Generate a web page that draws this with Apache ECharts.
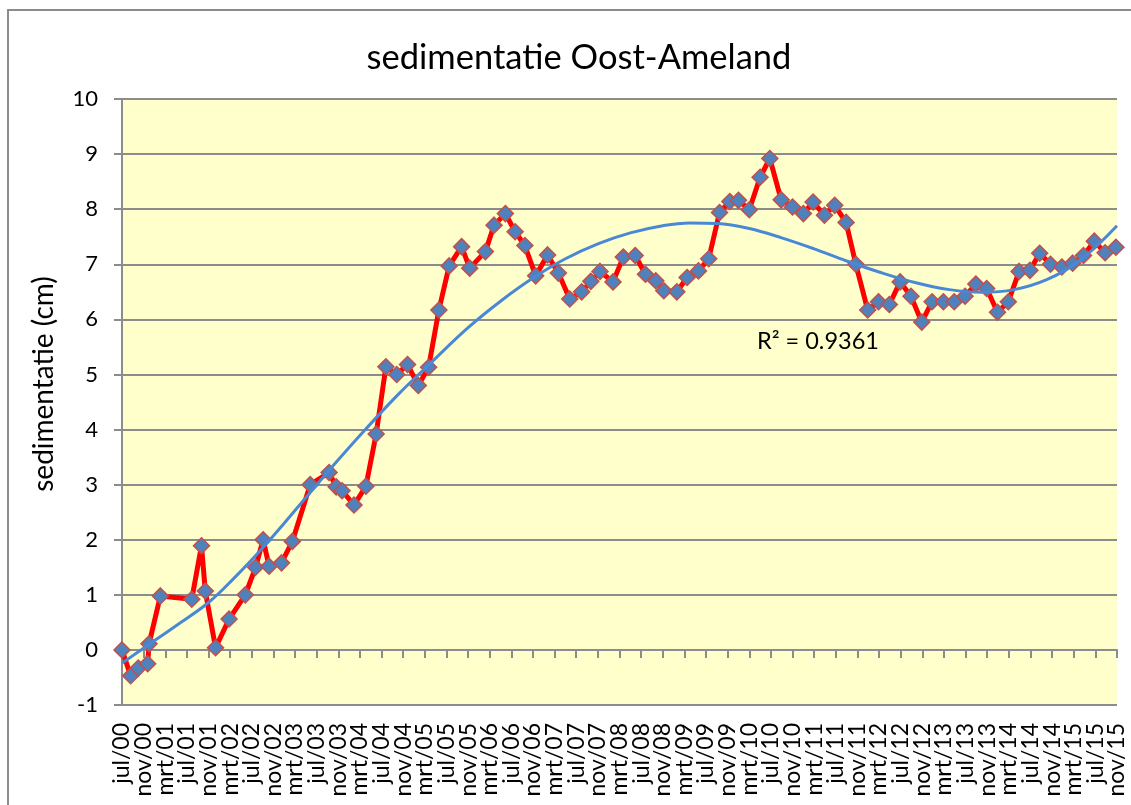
<!DOCTYPE html>
<html>
<head>
<meta charset="utf-8">
<script src="https://cdn.jsdelivr.net/npm/echarts@6/dist/echarts.min.js"></script>
<style>
  html, body { margin: 0; padding: 0; background: #fff; }
  #chart { width: 1131px; height: 805px; }
</style>
</head>
<body>
<div id="chart"></div>
<script>
// months counted from jul/00
const months = [0, 1.6, 3.0, 4.75, 5.0, 7.1, 12.9, 14.7, 15.4, 17.3, 19.8, 22.8, 24.7, 26.1, 27.2, 29.5,
  31.5, 34.8, 38.3, 39.6, 40.7, 42.9, 45.1, 47.0, 48.8, 50.8, 52.8, 54.8, 56.7, 58.6, 60.5, 62.8,
  64.3, 67.2, 68.8, 70.9, 72.7, 74.5, 76.5, 78.7, 80.7, 82.8, 85.0, 86.7, 88.4, 90.8, 92.7, 94.9,
  96.8, 98.7, 100.2, 102.6, 104.5, 106.6, 108.5, 110.5, 112.4, 114.0, 116.0, 118.0, 119.8, 121.9,
  124.0, 126.0, 127.8, 129.9, 131.8, 133.9, 135.7, 137.9, 139.9, 141.9, 143.9, 145.9, 147.9, 149.8,
  151.9, 153.9, 155.9, 157.9, 159.9, 161.9, 163.9, 165.9, 167.9, 169.7, 171.7, 173.8, 175.8, 177.8,
  179.8, 181.8, 183.8];
const sedimentatie = [0.0, -0.47, -0.33, -0.25, 0.11, 0.98, 0.92, 1.89, 1.07, 0.04, 0.56, 1.0, 1.5, 2.0, 1.52, 1.58,
  1.97, 3.0, 3.22, 2.96, 2.89, 2.63, 2.97, 3.92, 5.14, 5.0, 5.18, 4.8, 5.13, 6.17, 6.97, 7.32,
  6.93, 7.23, 7.71, 7.92, 7.59, 7.34, 6.79, 7.17, 6.84, 6.37, 6.5, 6.69, 6.87, 6.68, 7.13, 7.16,
  6.82, 6.70, 6.52, 6.50, 6.76, 6.88, 7.10, 7.94, 8.14, 8.16, 7.99, 8.58, 8.92, 8.17,
  8.04, 7.92, 8.13, 7.89, 8.07, 7.76, 7.00, 6.17, 6.32, 6.27, 6.68, 6.42, 5.95, 6.32,
  6.32, 6.32, 6.42, 6.64, 6.56, 6.13, 6.32, 6.87, 6.89, 7.2, 7.0, 6.95, 7.02, 7.16,
  7.42, 7.21, 7.31];

// polynomial trendline
const trendMonths = [0, 5, 10, 16, 21, 26, 30, 35, 40, 45, 51, 57, 64, 70, 76, 82, 88, 94, 100, 105,
  110, 116, 122, 128, 134, 140, 147, 153, 159, 165, 171, 177, 184];
const trendValues = [-0.24, 0.10, 0.44, 0.86, 1.33, 1.85, 2.3, 2.88, 3.45, 4.0, 4.63, 5.2, 5.85, 6.33,
  6.75, 7.1, 7.37, 7.57, 7.7, 7.75, 7.74, 7.65, 7.48, 7.28, 7.06, 6.86, 6.66, 6.54, 6.49, 6.54, 6.72,
  7.06, 7.7];

const xTickLabels = [];
const monthNames = ['jul', 'nov', 'mrt'];
for (let i = 0; i <= 46; i++) {
  const m = 6 + i * 4;
  const yr = (Math.floor(m / 12)) % 100;
  xTickLabels.push(monthNames[i % 3] + '/' + String(yr).padStart(2, '0'));
}

const font = 'Lato';
const gray = '#8c8c8c';
const xMin = 0, xMax = 184;

const labelStyle = { rotate: 90, margin: 18, fontSize: 23, color: '#000', fontFamily: font };

const chart = echarts.init(document.getElementById('chart'));
chart.setOption({
  animation: false,
  backgroundColor: '#fff',
  textStyle: { fontFamily: font },
  title: {
    text: 'sedimentatie Oost-Ameland',
    left: 574,
    top: 35,
    textAlign: 'center',
    textStyle: { fontSize: 34.5, fontWeight: 'normal', color: '#000', fontFamily: font }
  },
  graphic: [
    {
      type: 'rect',
      shape: { x: 8, y: 10, width: 1200, height: 900 },
      style: { fill: 'none', stroke: gray, lineWidth: 2 },
      silent: true
    },
    {
      type: 'text',
      x: 44, y: 384,
      rotation: Math.PI / 2,
      style: {
        text: 'sedimentatie (cm)', fontSize: 28, fontFamily: font, fill: '#000',
        align: 'center', verticalAlign: 'middle'
      }
    },
    {
      type: 'text',
      x: 757, y: 341,
      z: 10,
      style: {
        text: 'R² = 0.9361', fontSize: 23.5, fontFamily: font, fill: '#000',
        align: 'left', verticalAlign: 'middle'
      }
    }
  ],
  grid: {
    left: 122, top: 99, right: 14, bottom: 100,
    show: true, backgroundColor: '#FFFFCC', borderWidth: 0
  },
  xAxis: [
    {
      // inner tick labels
      type: 'value', min: xMin, max: xMax, interval: 4,
      axisLine: { show: false, onZero: false },
      axisTick: { show: false },
      splitLine: { show: false },
      axisLabel: Object.assign({}, labelStyle, {
        showMinLabel: false, showMaxLabel: false,
        formatter: (v) => xTickLabels[Math.round(v / 4)]
      })
    },
    {
      // axis line with ticks at zero
      type: 'value', min: xMin, max: xMax, interval: 4, position: 'bottom',
      axisLine: { show: true, onZero: true, lineStyle: { color: gray, width: 2 } },
      axisTick: { show: true, length: 8, lineStyle: { color: gray, width: 2 } },
      splitLine: { show: false },
      axisLabel: { show: false }
    },
    {
      // first and last labels
      type: 'value', min: xMin, max: xMax, interval: 4, position: 'bottom',
      axisLine: { show: false, onZero: false },
      axisTick: { show: false },
      splitLine: { show: false },
      axisLabel: Object.assign({}, labelStyle, {
        showMinLabel: true, showMaxLabel: true,
        formatter: (v) => (v === xMin || v === xMax) ? xTickLabels[Math.round(v / 4)] : ''
      })
    }
  ],
  yAxis: {
    type: 'value', min: -1, max: 10, interval: 1,
    axisLine: { show: true, lineStyle: { color: gray, width: 2 } },
    axisTick: { show: true, length: 8, lineStyle: { color: gray, width: 2 } },
    splitLine: { show: true, lineStyle: { color: gray, width: 2 } },
    axisLabel: { fontSize: 22, margin: 24, color: '#000', fontFamily: font }
  },
  series: [
    {
      type: 'line',
      name: 'sedimentatie',
      data: months.map((m, i) => [m, sedimentatie[i]]),
      symbol: 'diamond',
      symbolSize: 16,
      itemStyle: { color: '#4F81BD', borderColor: '#C0504D', borderWidth: 1.5 },
      lineStyle: { color: '#FF0000', width: 5 },
      z: 2
    },
    {
      type: 'line',
      name: 'trend',
      data: trendMonths.map((m, i) => [m, trendValues[i]]),
      smooth: 0.4,
      showSymbol: false,
      lineStyle: { color: '#4A88D6', width: 3 },
      z: 3
    }
  ]
});
</script>
</body>
</html>
